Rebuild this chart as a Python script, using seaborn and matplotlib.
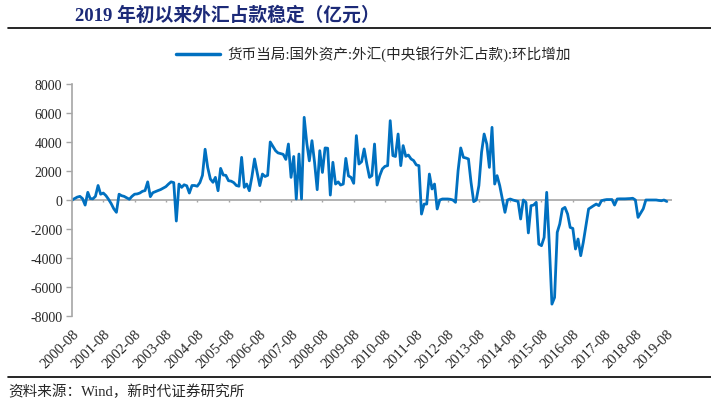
import matplotlib
matplotlib.use("Agg")
import matplotlib.pyplot as plt
from matplotlib.lines import Line2D
import pandas as pd
import seaborn as sns

# -----------------------------
# Data (亿元, month-on-month change)
# -----------------------------
start_month = "2000-08"
fx_change = [
    0, 100, 200, 250, 100, -350, 530, 100, 80, 250, 1000, 400,
    480, 300, 50, -250, -600, -850, 400, 300, 250, 150, 50, 250,
    400, 420, 480, 600, 650, 1250, 230, 500, 580, 650, 720, 820,
    920, 1100, 1250, 1200, -1450, 1100, 870, 1050, 980, 480, 1000, 1000,
    950, 1200, 1700, 3500, 2250, 1450, 1220, 1560, 640, 2180, 1720, 1700,
    1330, 1300, 1200, 1000, 950, 2940, 870, 1100, 640, 1600, 2830, 1900,
    990, 1790, 1620, 1700, 4000, 3700, 3400, 3250, 3200, 3150, 2800, 3860,
    1560, 3000, 70, 3170, 70, 5700, 3900, 2700, 4090, 2600, 710, 3400,
    1900, 3590, 3570, 340, 2600, 1100, 1250, 1030, 1100, 2870, 1660, 1560,
    1150, 4440, 2480, 2640, 3520, 2480, 1560, 1680, 3860, 1030, 1680, 2140,
    2320, 2370, 5470, 3060, 3000, 4550, 2370, 3750, 3010, 3100, 2830, 2720,
    2420, 2370, -970, -280, -280, 1790, 760, 1100, -620, 0, 70, 70,
    70, 50, 0, -160, 2020, 3590, 2940, 2900, 2830, 1220, -115, 0,
    1000, 3290, 4550, 3860, 2250, 5010, 1100, 1680, 990, 70, -850, 0,
    70, 0, -50, -100, -1310, 0, -160, -2270, -390, -350, -160, -3040,
    -3150, -2580, 530, -3150, -7180, -6720, -2230, -1660, -620, -510, -970, -1890,
    -1960, -3380, -2690, -3840, -2920, -1770, -620, -510, -390, -280, -390, -50,
    0, 30, 30, 30, -350, 70, 80, 80, 80, 90, 100, 120,
    0, -1200, -900, -600, 0, 0, 0, 0, 0, -30, -50, 0,
    -100,
]
y_ticks = list(range(-8000, 8001, 2000))
series_name = "货币当局:国外资产:外汇(中央银行外汇占款):环比增加"
title = "2019 年初以来外汇占款稳定（亿元）"
source = "资料来源：Wind，新时代证券研究所"

dates = pd.date_range(start_month, periods=len(fx_change), freq="MS")
df = pd.DataFrame({"date": dates, "value": fx_change})
tick_dates = pd.date_range(start_month, dates[-1], freq="12MS")

# -----------------------------
# Style
# -----------------------------
sns.set_style("white")
fonts = ["Liberation Serif", "Noto Sans CJK SC", "DejaVu Sans"]
plt.rcParams["font.family"] = fonts

fig = plt.figure(figsize=(7.11, 4.02), dpi=100)
ax = fig.add_axes([0.1013, 0.2114, 0.8437, 0.5772])

blue = "#0070C0"
grey = "#A6A6A6"

sns.lineplot(data=df, x="date", y="value", ax=ax, color=blue, lw=2.0,
             label=series_name, legend=False)

# zero axis with small tick marks, labels kept at the bottom
ax.axhline(0, color=grey, lw=1.2, zorder=1)
ax.vlines(tick_dates, -170, 0, color=grey, lw=1.0, zorder=1)

ax.set_xlim(dates[0], dates[-1] + pd.DateOffset(months=2))
ax.set_ylim(-8000, 8000)
ax.set_yticks(y_ticks)
ax.set_yticklabels([str(v) for v in y_ticks])
ax.set_xticks(tick_dates)
ax.set_xticklabels([d.strftime("%Y-%m") for d in tick_dates],
                   rotation=45, ha="right", rotation_mode="anchor")

ax.tick_params(axis="x", length=0, pad=8, labelsize=10.5)
ax.tick_params(axis="y", length=4, width=1, color=grey, direction="out",
               labelsize=10, pad=3, left=True)
for side in ["top", "right", "bottom"]:
    ax.spines[side].set_visible(False)
ax.spines["left"].set_color(grey)
ax.spines["left"].set_linewidth(1.2)
ax.set_xlabel("")
ax.set_ylabel("")

# legend above the plot
handles = [Line2D([0], [0], color=blue, lw=2.5)]
fig.legend(handles, [series_name], loc="center", bbox_to_anchor=(0.525, 0.863),
           frameon=False, handlelength=3.0, handletextpad=0.5,
           prop={"family": fonts, "size": 10.5})

# title, rules and source
fig.text(0.105, 0.962, title, fontsize=13.5, fontweight="bold",
         color="#1C2A78", va="center", ha="left", family=fonts)
fig.add_artist(Line2D([0.011, 1.0], [0.928, 0.928], transform=fig.transFigure,
                      color="black", lw=1.2))
fig.add_artist(Line2D([0.011, 1.0], [0.06, 0.06], transform=fig.transFigure,
                      color="black", lw=1.2))
fig.text(0.011, 0.025, source, fontsize=10.5, va="center", ha="left", family=fonts)

fig.savefig("out.png", dpi=100)
